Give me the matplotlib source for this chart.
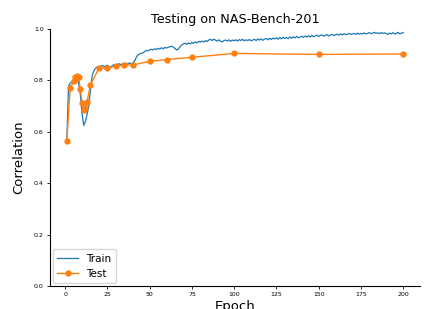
import numpy as np
from matplotlib import pyplot as plt

# train correlation, one value per epoch 1..200
train_epochs = list(range(1, 201))
train_corr = [
    0.568, 0.776, 0.790, 0.793, 0.797, 0.812, 0.810, 0.790, 0.745, 0.670,
    0.625, 0.640, 0.668, 0.700, 0.765, 0.818, 0.838, 0.847, 0.852, 0.853,
    0.855, 0.858, 0.853, 0.856, 0.859, 0.854, 0.852, 0.858, 0.861, 0.857,
    0.861, 0.865, 0.860, 0.866, 0.862, 0.867, 0.863, 0.868, 0.864, 0.868,
    0.874, 0.889, 0.898, 0.903, 0.905, 0.907, 0.912, 0.917, 0.915, 0.919,
    0.921, 0.918, 0.923, 0.920, 0.925, 0.922, 0.927, 0.923, 0.928, 0.926,
    0.929, 0.931, 0.933, 0.929, 0.924, 0.918, 0.922, 0.931, 0.938, 0.942,
    0.945, 0.940, 0.946, 0.942, 0.948, 0.944, 0.950, 0.946, 0.952, 0.949,
    0.953, 0.949, 0.955, 0.951, 0.957, 0.960, 0.955, 0.961, 0.956, 0.953,
    0.958, 0.952, 0.950, 0.955, 0.957, 0.953, 0.958, 0.952, 0.957, 0.954,
    0.958, 0.953, 0.959, 0.955, 0.960, 0.954, 0.958, 0.955, 0.959, 0.954,
    0.957, 0.960, 0.955, 0.961, 0.957, 0.962, 0.956, 0.961, 0.963, 0.958,
    0.964, 0.959, 0.965, 0.961, 0.966, 0.960, 0.967, 0.962, 0.968, 0.963,
    0.967, 0.962, 0.969, 0.964, 0.970, 0.965, 0.971, 0.966, 0.968, 0.972,
    0.967, 0.973, 0.968, 0.974, 0.969, 0.975, 0.970, 0.973, 0.976, 0.971,
    0.975, 0.977, 0.972, 0.976, 0.978, 0.973, 0.977, 0.979, 0.974, 0.978,
    0.980, 0.976, 0.981, 0.977, 0.982, 0.978, 0.980, 0.983, 0.979, 0.981,
    0.983, 0.979, 0.984, 0.980, 0.983, 0.981, 0.985, 0.981, 0.983, 0.986,
    0.982, 0.984, 0.987, 0.983, 0.985, 0.982, 0.986, 0.983, 0.985, 0.982,
    0.979, 0.984, 0.981, 0.986, 0.980, 0.983, 0.987, 0.981, 0.984, 0.986,
]

test_epochs = [1, 3, 5, 6, 7, 8, 9, 10, 11, 12, 13, 15, 20, 25, 30, 35, 40,
               50, 60, 75, 100, 150, 200]
test_corr = [0.565, 0.772, 0.796, 0.812, 0.816, 0.812, 0.765, 0.712, 0.683,
             0.692, 0.717, 0.784, 0.847, 0.849, 0.855, 0.860, 0.860,
             0.874, 0.881, 0.890, 0.905, 0.901, 0.903]

fig = plt.figure(figsize=(4.24, 3.09), dpi=100)
ax = fig.add_axes([50/424, 1-286/309, 370/424, 257/309])

ax.plot(train_epochs, train_corr, color="C0", lw=0.9, label="Train")
ax.plot(test_epochs, test_corr, color="C1", lw=1.0, marker="o", ms=3.5, label="Test")

ax.set_ylim(0, 1)
ax.set_xticks([0, 25, 50, 75, 100, 125, 150, 175, 200])
ax.set_yticks([0.0, 0.2, 0.4, 0.6, 0.8, 1.0])
ax.tick_params(labelsize=4.5, length=2.5, width=0.6, pad=2)
ax.spines["top"].set_visible(False)
ax.spines["right"].set_visible(False)

ax.set_title("Testing on NAS-Bench-201", fontsize=9.2, pad=4)
ax.set_xlabel("Epoch", fontsize=9.5, labelpad=2)
ax.set_ylabel("Correlation", fontsize=9.5, labelpad=6)
ax.legend(loc="lower left", fontsize=7.5, borderaxespad=0.3)

fig.savefig("out.png", dpi=100)
